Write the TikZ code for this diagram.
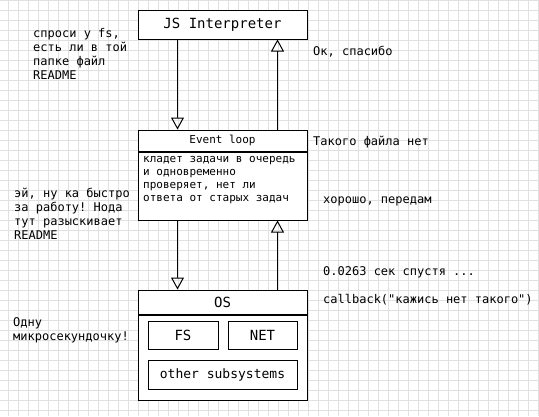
\documentclass[tikz,border=0pt]{standalone}
\usepackage{fontspec}
\setmonofont{DejaVu Sans Mono}
\usetikzlibrary{arrows.meta}

\begin{document}
\begin{tikzpicture}[x=1pt,y=-1pt,
  box/.style={draw,line width=1pt,fill=white,inner sep=0pt},
  tx/.style={font=\ttfamily\fontsize{12}{14}\selectfont,align=left,anchor=west,inner sep=0pt},
  sm/.style={font=\ttfamily\fontsize{11}{13}\selectfont},
  md/.style={font=\ttfamily\fontsize{13}{15}\selectfont},
  bg/.style={font=\ttfamily\fontsize{14}{16}\selectfont},
  flow/.style={line width=1pt,-{Triangle[open,length=12pt,width=13pt]}}]
\useasboundingbox (0,0) rectangle (539,416);
\fill[white] (0,0) rectangle (539,416);
\foreach \i in {8,18,...,538} \draw[black!12,line width=0.8pt] (\i,0) -- (\i,416);
\foreach \j in {0,10,...,410} \draw[black!12,line width=0.8pt] (0,\j) -- (539,\j);

\node[box,bg,minimum width=169pt,minimum height=29pt] (interp) at (222.5,24.5) {JS Interpreter};
\node[box,sm,minimum width=169pt,minimum height=21pt] (loophead) at (222.5,140.5) {Event loop};
\node[box,minimum width=169pt,minimum height=68pt,anchor=north] (loopbody) at (loophead.south) {};
\node[tx,sm] (looptext) at (143,180.5) {кладет задачи в очередь\\и одновременно\\проверяет, нет ли\\ответа от старых задач};
\node[box,bg,minimum width=169pt,minimum height=24pt] (oshead) at (222.5,302) {OS};
\node[box,minimum width=169pt,minimum height=85pt,anchor=north] (osbody) at (oshead.south) {};
\node[box,bg,minimum width=70pt,minimum height=28pt] (fs) at (183,335) {FS};
\node[box,bg,minimum width=69pt,minimum height=28pt] (net) at (262.5,335) {NET};
\node[box,md,minimum width=149pt,minimum height=29pt] (other) at (222.5,374.5) {other subsystems};

\draw[flow] ([xshift=40pt]interp.south west) -- ([xshift=40pt]loophead.north west);
\draw[flow] ([xshift=140pt]loophead.north west) -- ([xshift=140pt]interp.south west);
\draw[flow] ([xshift=40pt]loopbody.south west) -- ([xshift=40pt]oshead.north west);
\draw[flow] ([xshift=140pt]oshead.north west) -- ([xshift=140pt]loopbody.south west);

\node[tx] (ask) at (33,54) {спроси у fs,\\есть ли в той\\папке файл\\README};
\node[tx] (hurry) at (14,214) {эй, ну ка быстро\\за работу! Нода\\тут разыскивает\\README};
\node[tx] (wait) at (13,330) {Одну\\микросекундочку!};
\node[tx] (thanks) at (313,52) {Ок, спасибо};
\node[tx] (nofile) at (313,142) {Такого файла нет};
\node[tx] (fine) at (323,201) {хорошо, передам};
\node[tx] (later) at (323,272) {0.0263 сек спустя ...};
\node[tx] (cb) at (323,300) {callback("кажись нет такого")};
\end{tikzpicture}
\end{document}
